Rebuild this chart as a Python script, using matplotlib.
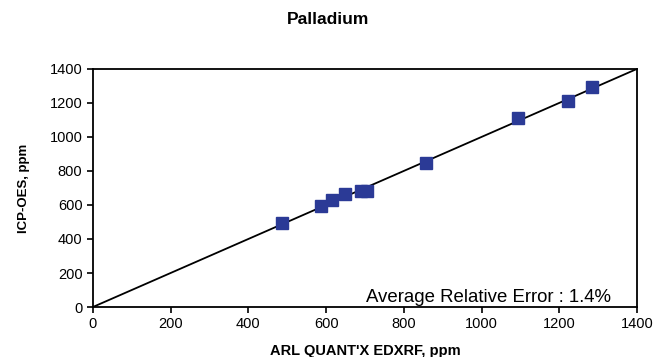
import numpy as np
import matplotlib.pyplot as plt

plt.rcParams['font.family'] = ['Liberation Sans', 'DejaVu Sans']

# EDXRF vs ICP-OES values (ppm)
edxrf = [486, 587, 615, 648, 690, 705, 857, 1094, 1222, 1284]
icp = [492, 594, 632, 665, 684, 684, 848, 1112, 1212, 1292]
ticks = [0, 200, 400, 600, 800, 1000, 1200, 1400]

fig = plt.figure(figsize=(6.54, 3.57), dpi=100)
ax = fig.add_axes([0.142, 0.140, 0.832, 0.667])

ax.plot([0, 1400], [0, 1400], color='black', linewidth=1.3)
ax.plot(edxrf, icp, linestyle='none', marker='s', markersize=8,
        color='#2B3A96', markeredgecolor='#2B3A96')

ax.set_xlim(0, 1400)
ax.set_ylim(0, 1400)
ax.set_xticks(ticks)
ax.set_yticks(ticks)
ax.tick_params(direction='out', length=4, width=1.2, labelsize=10.5)
for s in ax.spines.values():
    s.set_linewidth(1.3)

ax.set_xlabel("ARL QUANT'X EDXRF, ppm", fontsize=10.5, fontweight='bold', labelpad=9)
ax.set_ylabel("ICP-OES, ppm", fontsize=9.5, fontweight='bold', labelpad=14)
fig.suptitle("Palladium", x=0.502, y=0.965, fontsize=12.5, fontweight='bold')
ax.text(0.953, 0.005, "Average Relative Error : 1.4%", transform=ax.transAxes,
        ha='right', va='bottom', fontsize=13.4)

fig.savefig("out.png", dpi=100)
